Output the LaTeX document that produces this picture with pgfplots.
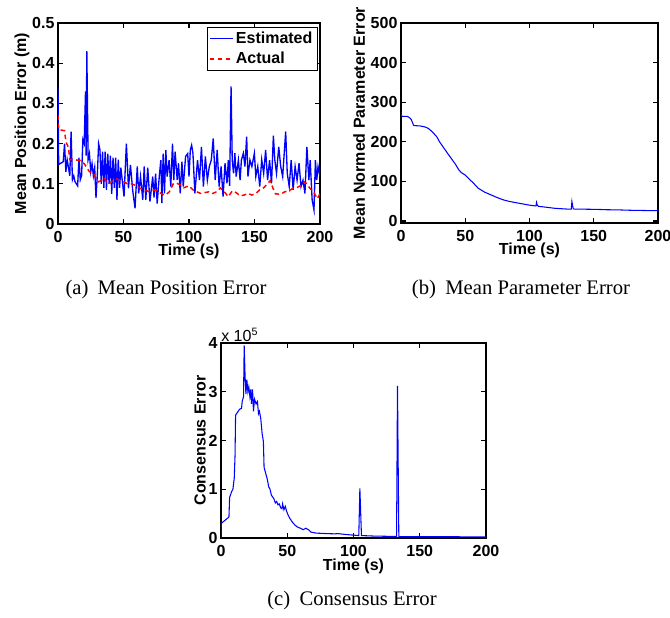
\documentclass[border=0pt]{standalone}
\usepackage{pgfplots}
\pgfplotsset{compat=1.18}
\usepackage{fontspec}
\setmainfont{Liberation Sans}
\newfontfamily\capfont{Liberation Serif}

\pgfplotsset{
 mystyle/.style={
  scale only axis,
  clip mode=individual,
  axis line style={line width=0.8pt},
  every tick/.style={line width=0.8pt, black},
  major tick length=4pt,
  xmin=0, xmax=200, xtick={0,50,100,150,200},
  /pgf/number format/assume math mode=true,
  tick label style={font=\fontsize{12}{12}\selectfont\bfseries},
  label style={font=\fontsize{12}{12}\selectfont\bfseries},
  xlabel={Time (s)},
  xlabel style={at={(axis description cs:0.5,0)}, anchor=north, inner sep=0pt, yshift=-15pt},
  xticklabel style={inner sep=0pt, yshift=-5pt},
  yticklabel style={inner sep=0pt, xshift=-2.5pt},
 }
}

\pgfplotstableread{
t v
0 0.34
0.5 0.148
4 0.155
5 0.2
6 0.13
7 0.16
8 0.14
9 0.12
10 0.23
11 0.11
12 0.12
13 0.105
14 0.1
15 0.095
16 0.165
17 0.11
18 0.12
19 0.21
20 0.2
21 0.33
21.5 0.17
22 0.43
23 0.16
24 0.175
25 0.13
26 0.15
27 0.12
28 0.14
29 0.065
30 0.12
31 0.2
32 0.185
33 0.1
34 0.18
35 0.09
36 0.18
37 0.085
38 0.175
39 0.1
40 0.17
41 0.075
42 0.165
43 0.09
44 0.165
45 0.06
46 0.16
47 0.09
48 0.14
49 0.11
50.4 0.068
52.2 0.2
53.8 0.089
55.3 0.147
57 0.084
58.8 0.039
60.5 0.143
61.6 0.076
63 0.118
64.7 0.06
65.8 0.143
67 0.06
68.5 0.14
70.2 0.056
72.3 0.118
73.3 0.066
74.5 0.125
75.7 0.051
77.3 0.118
78.5 0.159
79.3 0.052
80.3 0.175
81.3 0.076
82.3 0.184
83.3 0.118
84.8 0.159
86.1 0.093
87.4 0.2
88.4 0.109
89.4 0.18
91 0.109
92 0.151
93.3 0.076
94.6 0.155
95.6 0.093
97.4 0.168
99 0.175
100 0.118
101 0.184
102 0.196
103 0.176
104.5 0.076
106.5 0.159
108 0.109
109.5 0.192
111 0.093
112.5 0.168
114 0.109
115.5 0.143
117 0.159
118.5 0.213
120 0.109
121.5 0.184
123 0.093
124.5 0.143
126 0.068
127.5 0.151
129 0.101
130 0.159
131 0.095
132.1 0.342
133 0.159
134 0.126
135 0.176
136 0.118
137.7 0.159
139 0.109
140 0.159
141.5 0.176
142.7 0.143
144 0.217
145 0.118
146.5 0.159
148 0.143
149.9 0.176
151 0.118
152.5 0.143
154 0.093
155.5 0.16
157 0.126
158.5 0.184
160 0.109
161.5 0.159
163 0.101
164.4 0.22
165.5 0.159
166.8 0.126
168.5 0.192
170 0.143
171.5 0.118
173.8 0.23
175 0.126
176.5 0.093
178 0.159
179.5 0.085
181 0.143
182.5 0.109
184 0.151
185.5 0.093
187 0.109
188.5 0.076
190 0.192
191.5 0.109
192.5 0.159
194 0.06
195.4 0.035
196.5 0.159
197.5 0.109
198.5 0.143
200 0.118
}\estdata

\pgfplotstableread{
t v
0 0.27
0.5 0.235
5 0.232
6 0.205
8 0.19
9 0.16
12 0.16
17 0.158
20 0.15
22 0.14
24 0.13
27 0.125
29 0.115
31 0.105
33 0.108
35 0.115
37 0.105
39 0.1
42 0.108
45 0.112
48 0.108
50 0.105
53 0.1
56 0.1
60 0.095
63 0.088
66 0.085
70 0.08
73 0.085
76 0.082
79 0.075
82 0.072
85 0.08
88 0.1
90 0.102
93 0.098
96 0.09
100 0.095
103 0.085
106 0.08
109 0.076
112 0.078
115 0.08
118 0.076
121 0.08
124 0.09
127 0.08
130 0.068
133 0.082
136 0.078
139 0.07
142 0.072
145 0.076
148 0.072
151 0.076
154 0.085
157 0.09
160 0.1
162 0.108
164 0.09
166 0.075
170 0.074
173 0.08
176 0.082
179 0.088
182 0.09
185 0.095
188 0.105
190 0.1
192 0.09
195 0.08
198 0.063
200 0.076
}\actdata

\pgfplotstableread{
t v
0 276
0.5 264
5 264
6 262
7 260
8 256
9.6 243
10 241
15 240
18 238
20 236
22 232
25 223
28 212
30 200
33 186
36 172
38 163
40 154
42 145
43 140
45 129
47 122
50 116
53 106
56 97
60 83
65 73
70 66
75 59
80 53
85 49
90 46
95 43
100 40
105 38
105.5 47
106 40
107 37
110 36
115 34
120 32
125 31
130 30
132.5 30
133 49
134 31
135 30
140 30
150 29.5
156 29
160 28.5
170 28
180 27
190 26.5
200 26
}\pardata

\pgfplotstableread{
t v
0 0.0
0.2 0.3
6 0.43
6.5 0.83
8 0.95
9 1.0
10 1.23
10.6 1.7
11 2.52
14 2.64
15.5 2.66
16 2.8
17 2.9
17.5 3.95
18.2 3.3
18.8 2.95
19.5 3.25
20.3 3.0
21 3.1
21.8 2.9
22.5 3.05
23 2.75
23.8 3.05
24.5 2.6
25.3 2.85
26.5 2.75
27.5 2.8
28.3 2.55
29 2.6
30 2.45
31 2.15
32 1.98
32.5 1.45
34 1.3
35 1.2
36 1.05
37 1.0
38 0.88
40 0.8
41 0.72
42 0.75
43 0.68
44 0.7
45 0.62
46 0.6
46.5 0.7
47.5 0.58
48.5 0.65
49.5 0.55
50.5 0.48
52 0.4
54 0.32
56 0.26
58 0.22
60 0.2
62 0.17
64 0.2
66 0.17
68 0.12
72 0.1
80 0.09
86 0.085
88 0.09
95 0.07
104 0.05
104.8 1.02
106 0.05
115 0.04
125 0.035
132.5 0.03
133.2 3.12
134.2 0.03
150 0.025
156 0.03
170 0.025
180 0.025
200 0.02
}\condata

\begin{document}
\begin{tikzpicture}
\useasboundingbox (0,0) rectangle (502.5pt,462.75pt);

% (a)
\begin{axis}[mystyle,
  at={(43.5pt,294.75pt)}, anchor=south west,
  width=196.5pt, height=150.75pt,
  ymin=0, ymax=0.5, ytick={0,0.1,0.2,0.3,0.4,0.5},
  yticklabels={0,0.1,0.2,0.3,0.4,0.5},
  ylabel={Mean Position Error (m)},
  ylabel style={yshift=-1.5pt},
  legend style={at={(1,1)}, anchor=north east, xshift=-2pt, yshift=-3pt,
    font=\fontsize{12}{12}\selectfont\bfseries, draw=black,
    inner sep=1.5pt, row sep=1pt},
  legend cell align=left,
]
\addplot[draw=blue, line width=1pt] table[x=t,y=v] {\estdata};
\addlegendentry{Estimated}
\addplot[draw=red, line width=1.1pt, dash pattern=on 3.5pt off 2.5pt] table[x=t,y=v] {\actdata};
\addlegendentry{Actual}
\end{axis}

% (b)
\begin{axis}[mystyle,
  at={(300.75pt,295.5pt)}, anchor=south west,
  width=192.75pt, height=150pt,
  ymin=-5, ymax=500, ytick={0,100,200,300,400,500},
  ylabel={Mean Normed Parameter Error},
  ylabel style={inner sep=0pt, yshift=4pt},
]
\addplot[draw=blue, line width=0.8pt] table[x=t,y=v] {\pardata};
\end{axis}

% (c)
\begin{axis}[mystyle,
  at={(165.75pt,59.25pt)}, anchor=south west,
  width=198.75pt, height=146.25pt,
  ymin=0, ymax=4, ytick={0,1,2,3,4},
  ylabel={Consensus Error},
  ylabel style={yshift=-1.5pt},
  xlabel style={yshift=-0.5pt},
]
\addplot[draw=blue, line width=0.8pt] table[x=t,y=v] {\condata};
\node[anchor=south west, inner sep=0pt, font=\fontsize{12}{12}\selectfont] at (rel axis cs:0,1) [yshift=1pt] {x 10\textsuperscript{5}};
\end{axis}

\node[font=\capfont\fontsize{15.5}{18}\selectfont] at (124.5pt,245.25pt) {(a)\hspace{0.45em}Mean Position Error};
\node[font=\capfont\fontsize{15.5}{18}\selectfont] at (390.75pt,245.25pt) {(b)\hspace{0.45em}Mean Parameter Error};
\node[font=\capfont\fontsize{15.5}{18}\selectfont] at (264pt,12pt) {(c)\hspace{0.45em}Consensus Error};
\end{tikzpicture}
\end{document}
